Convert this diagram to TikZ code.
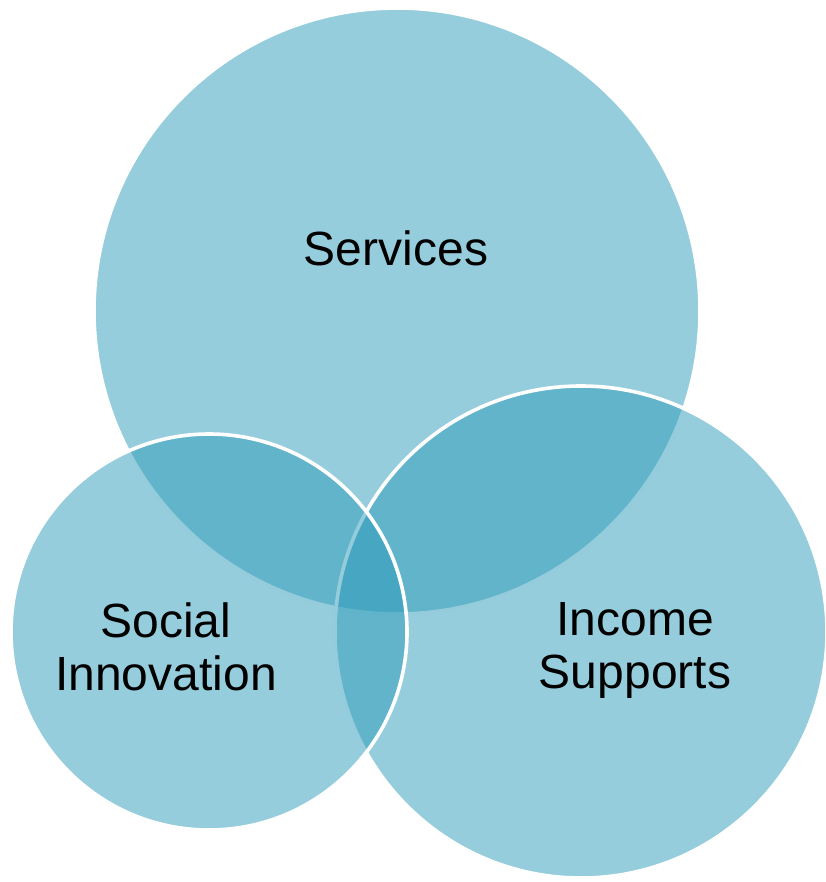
\documentclass[tikz,border=0pt]{standalone}
\usepackage{fontspec}
\setmainfont{Liberation Sans}
\usepackage{xcolor}
\definecolor{venn}{RGB}{45,155,185}

\begin{document}
\begin{tikzpicture}[x=0.5pt, y=-0.5pt,
blob/.style = {circle, fill=venn, fill opacity=0.5, draw=white, draw opacity=1,
            line width=1.8pt, minimum size=#1, inner sep=0pt, outer sep=0pt},
blob/.default = 100pt,  % diameter of the circle
tag/.style = {align=center, text opacity=1, font=\fontsize{24}{26.5}\selectfont}
                ]
    \useasboundingbox (0,0) rectangle (825,882);

    % the three sets, back to front
    \node[blob=303pt] at (397,311) (svc) {};
    \node[blob=246pt] at (581,632) (inc) {};
    \node[blob=198pt] at (209,632) (soc) {};

    % labels
    \node[tag] at (396,248) (svclab) {Services};
    \node[tag] at (166,647) (soclab) {Social\\Innovation};
    \node[tag] at (635,650) (inclab) {Income\\Supports};
\end{tikzpicture}
\end{document}
